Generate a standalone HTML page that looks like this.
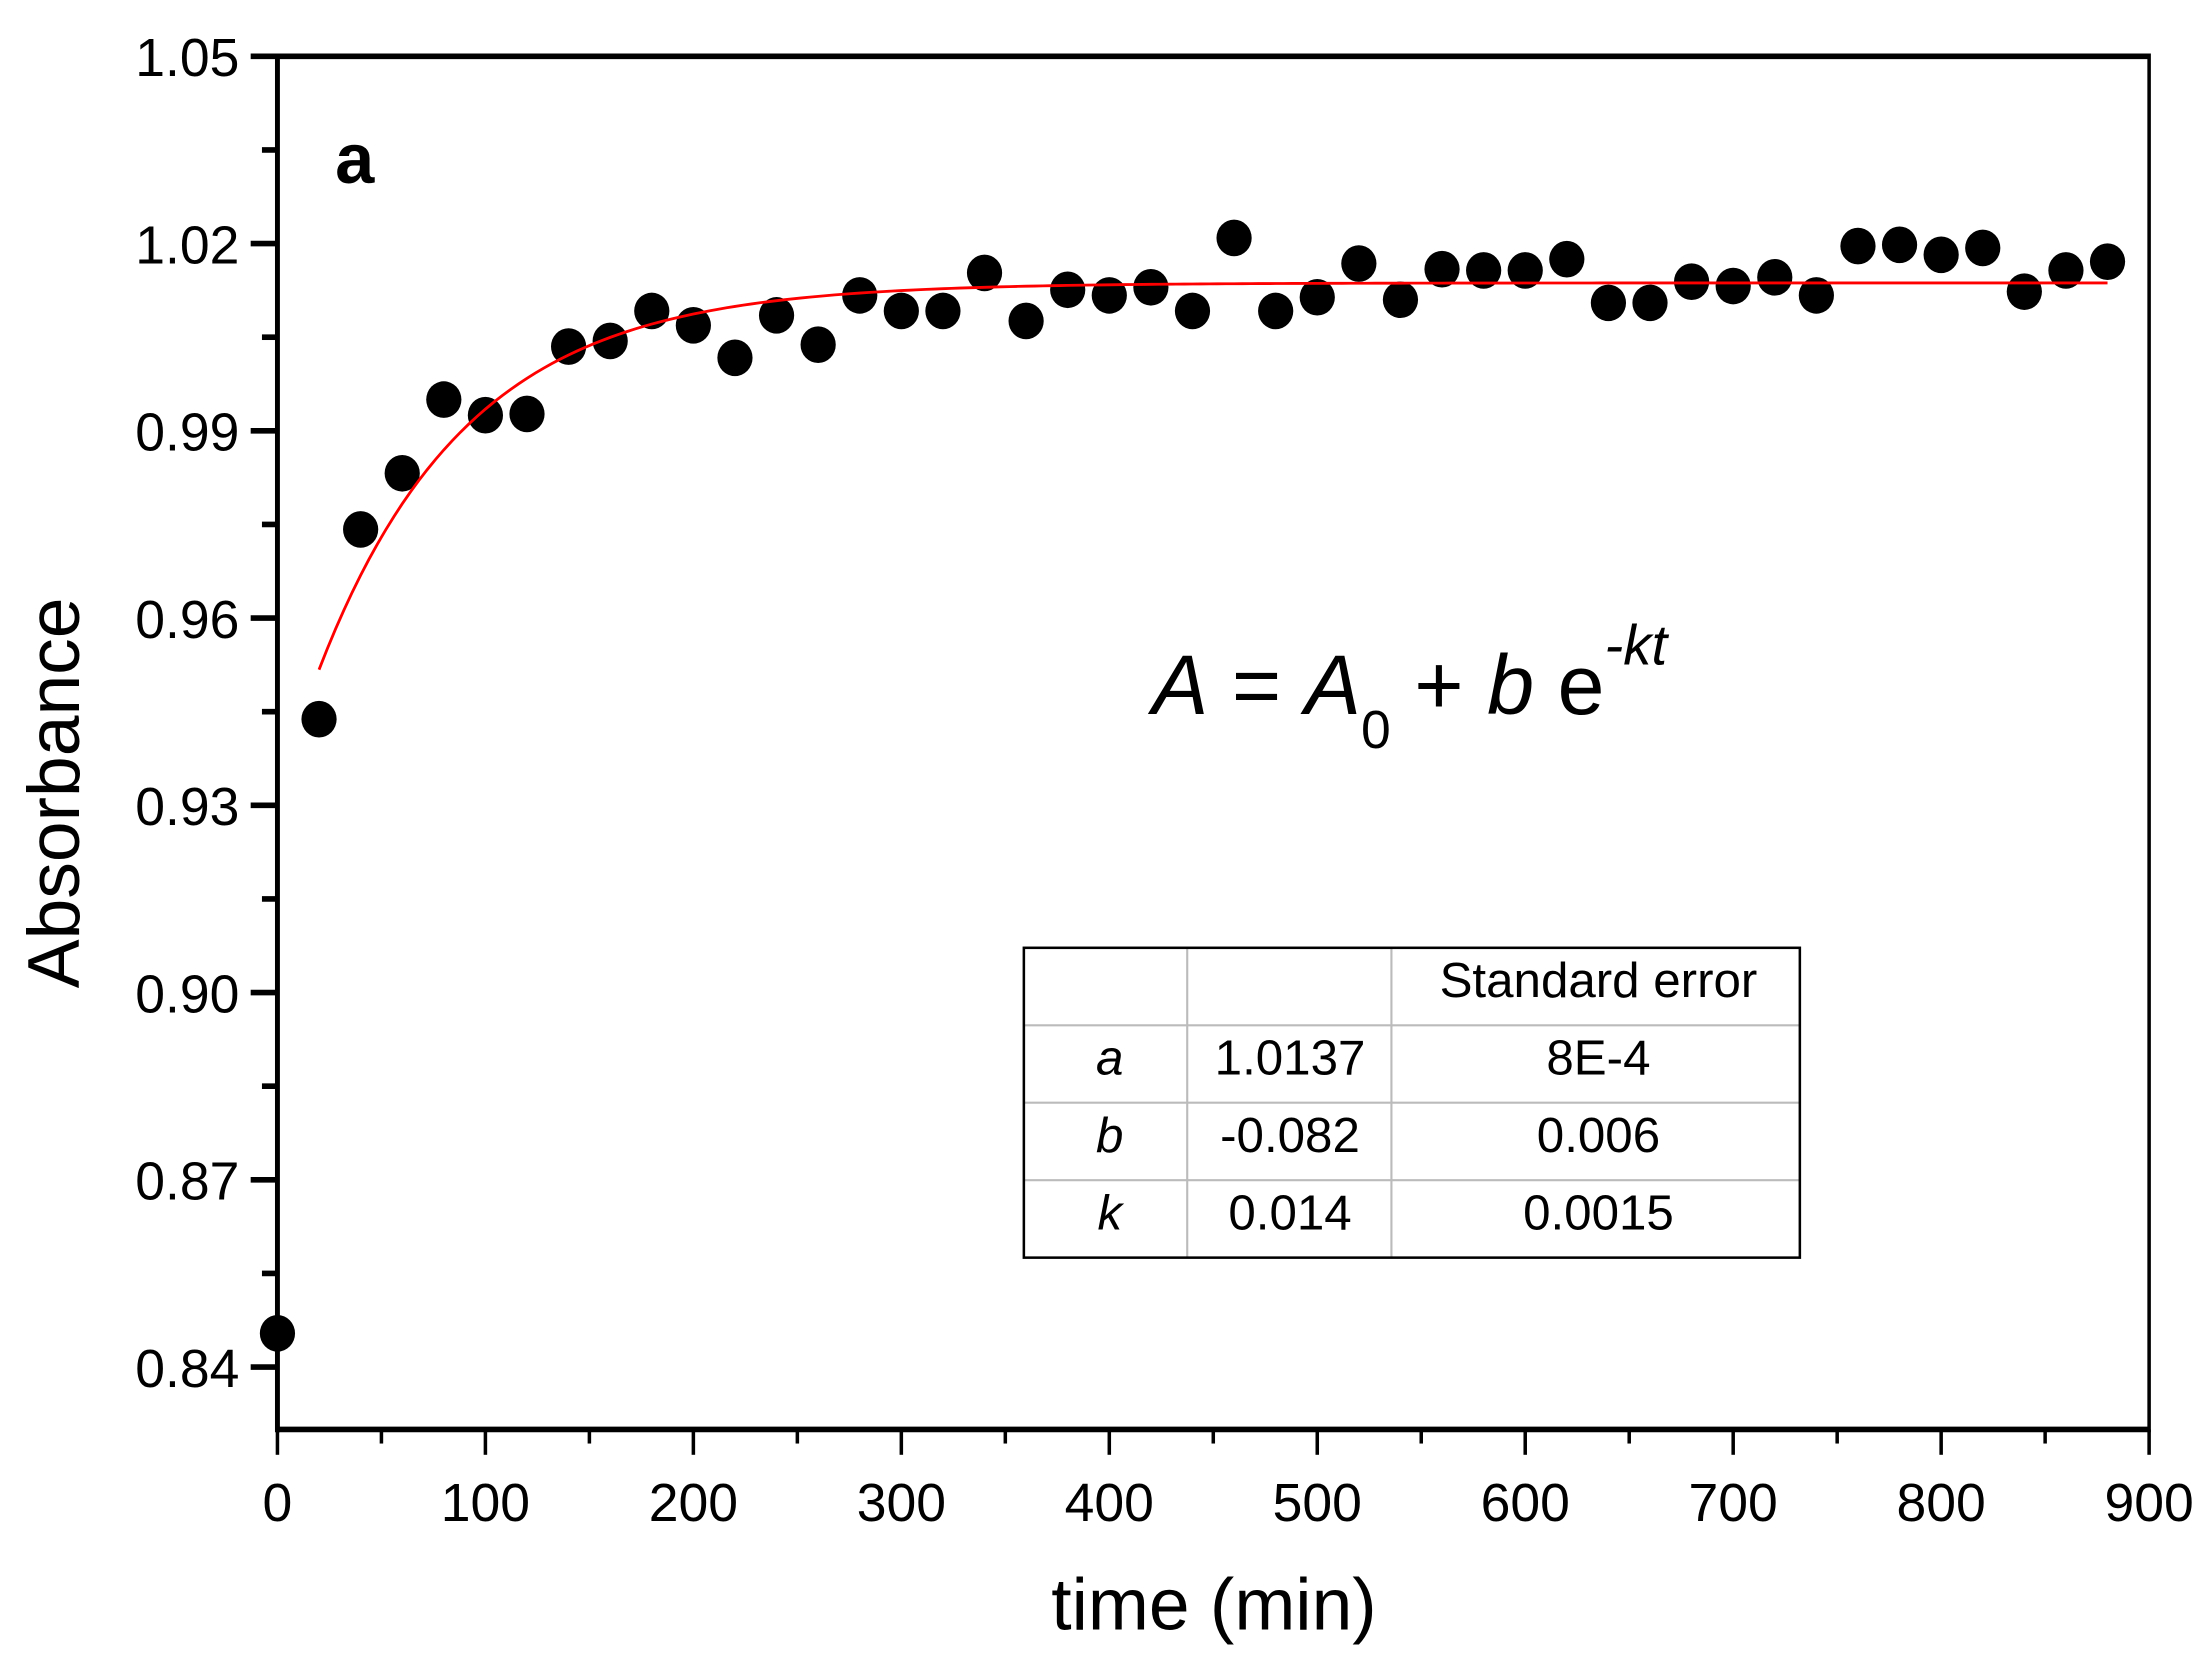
<!DOCTYPE html>
<html><head><meta charset="utf-8"><style>
html,body{margin:0;padding:0;background:#fff;}
svg{display:block;}
text{font-family:"Liberation Sans",Arial,sans-serif;fill:#000;}
</style></head><body>
<svg id="chart" width="2197" height="1655" viewBox="0 0 1560 1175.15" xmlns="http://www.w3.org/2000/svg">
<rect width="1560" height="1176" fill="#fff"/>
<g id="marks"></g>
<path id="fit" fill="none" stroke="#ff0000" stroke-width="2"/>
<g id="axes"></g>
<text x="238" y="130" font-size="50" font-weight="bold" font-family="Liberation Sans, Arial, sans-serif">a</text>
<text x="818" y="507" font-size="60" font-style="italic">A<tspan font-style="normal"> = </tspan>A<tspan font-style="normal" font-size="38" dy="24">0</tspan><tspan font-style="normal" dy="-24"> + </tspan>b<tspan font-style="normal"> e</tspan><tspan font-size="40" dy="-35">-kt</tspan></text>
<g>
<line x1="843" y1="673" x2="843" y2="893" stroke="#bbb" stroke-width="1.5"/>
<line x1="988" y1="673" x2="988" y2="893" stroke="#bbb" stroke-width="1.5"/>
<line x1="727" y1="728" x2="1278" y2="728" stroke="#bbb" stroke-width="1.5"/>
<line x1="727" y1="783" x2="1278" y2="783" stroke="#bbb" stroke-width="1.5"/>
<line x1="727" y1="838" x2="1278" y2="838" stroke="#bbb" stroke-width="1.5"/>
<rect x="727" y="673" width="551" height="220" fill="none" stroke="#000" stroke-width="1.8"/>
<g font-size="35" text-anchor="middle">
<text x="1135" y="708">Standard error</text>
<text x="788" y="763" font-style="italic">a</text><text x="916" y="763">1.0137</text><text x="1135" y="763">8E-4</text>
<text x="788" y="818" font-style="italic">b</text><text x="916" y="818">-0.082</text><text x="1135" y="818">0.006</text>
<text x="788" y="873" font-style="italic">k</text><text x="916" y="873">0.014</text><text x="1135" y="873">0.0015</text>
</g></g>
<text x="862" y="1157" font-size="52" text-anchor="middle">time (min)</text>
<text transform="translate(56,563) rotate(-90)" font-size="52" text-anchor="middle">Absorbance</text>
</svg>
<script>
const times = [0,20,40,60,80,100,120,140,160,180,200,220,240,260,280,300,320,340,360,380,400,420,440,460,480,500,520,540,560,580,600,620,640,660,680,700,720,740,760,780,800,820,840,860,880];
const absorbance = [0.8454,0.9438,0.9742,0.9832,0.995,0.9925,0.9927,1.0035,1.0044,1.0092,1.0069,1.0017,1.0085,1.0038,1.0117,1.0092,1.0092,1.0153,1.0076,1.0126,1.0117,1.0130,1.0092,1.0209,1.0092,1.0114,1.0168,1.0110,1.0159,1.0157,1.0157,1.0175,1.0105,1.0105,1.0139,1.0132,1.0146,1.0117,1.0196,1.0198,1.0182,1.0193,1.0123,1.0157,1.0171];
const fitParams = [1.0137,-0.082,0.014];
const xTicks = [0,100,200,300,400,500,600,700,800,900];
const yTicks = [0.84,0.87,0.90,0.93,0.96,0.99,1.02,1.05];
const yTickLabels = ["0.84","0.87","0.90","0.93","0.96","0.99","1.02","1.05"];

const L=197,R=1526,T=40,B=1015,XMIN=0,XMAX=900,YMIN=0.83,YMAX=1.05;
const sx=v=>L+(v-XMIN)/(XMAX-XMIN)*(R-L);
const sy=v=>B-(v-YMIN)/(YMAX-YMIN)*(B-T);
const NS="http://www.w3.org/2000/svg";
function mk(tag,attrs,parent){const e=document.createElementNS(NS,tag);for(const k in attrs)e.setAttribute(k,attrs[k]);parent.appendChild(e);return e;}

const marks=document.getElementById('marks');
times.forEach((t,i)=>{
  const c=mk('ellipse',{cx:sx(t),cy:sy(absorbance[i]),rx:12.5,ry:13,fill:'#000'},marks);
  
  
});
let d='';
for(let t=20;t<=880;t+=4){const v=fitParams[0]+fitParams[1]*Math.exp(-fitParams[2]*t);d+=(d?'L':'M')+sx(t).toFixed(2)+','+sy(v).toFixed(2);}
document.getElementById('fit').setAttribute('d',d);

const ax=document.getElementById('axes');
mk('line',{x1:L,y1:T,x2:R,y2:T,stroke:'#000','stroke-width':4},ax);
mk('line',{x1:L,y1:B,x2:R,y2:B,stroke:'#000','stroke-width':4},ax);
mk('line',{x1:L,y1:T-2,x2:L,y2:B+2,stroke:'#000','stroke-width':3.5},ax);
mk('line',{x1:R,y1:T-2,x2:R,y2:B+2,stroke:'#000','stroke-width':2.5},ax);
xTicks.forEach((v,i)=>{
  mk('line',{x1:sx(v),y1:B,x2:sx(v),y2:B+18,stroke:'#000','stroke-width':2.5},ax);
  if(i<xTicks.length-1){const m=(v+xTicks[i+1])/2;mk('line',{x1:sx(m),y1:B,x2:sx(m),y2:B+10,stroke:'#000','stroke-width':2.5},ax);}
  const t=mk('text',{x:sx(v),y:1080,'font-size':38,'text-anchor':'middle'},ax);
  t.textContent=v;
  
  
});
yTicks.forEach((v,i)=>{
  mk('line',{x1:L-19,y1:sy(v),x2:L,y2:sy(v),stroke:'#000','stroke-width':4},ax);
  if(i<yTicks.length-1){const m=(v+yTicks[i+1])/2;mk('line',{x1:L-11,y1:sy(m),x2:L,y2:sy(m),stroke:'#000','stroke-width':4},ax);}
  const t=mk('text',{x:170,y:sy(v)+14,'font-size':38,'text-anchor':'end'},ax);
  t.textContent=yTickLabels[i];
  
  
});
</script>
</body></html>
